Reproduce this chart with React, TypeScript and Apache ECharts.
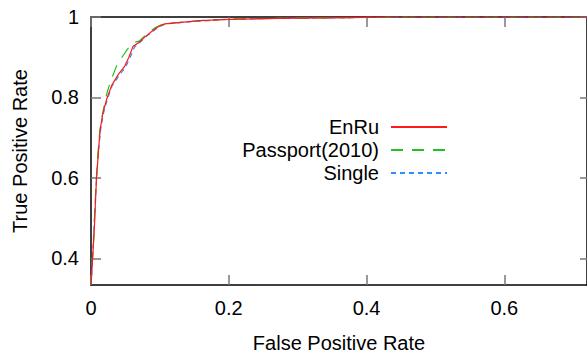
import React, { useEffect, useRef } from "react";
import * as echarts from "echarts";

const xTicks = [0, 0.2, 0.4, 0.6];
const yTicks = [0.4, 0.6, 0.8, 1];
const seriesNames = ["EnRu", "Passport(2010)", "Single"];

const enRu: [number, number][] = [
  [0, 0.335], [0.001, 0.36], [0.003, 0.42], [0.005, 0.48], [0.008, 0.6], [0.011, 0.67],
  [0.013, 0.715], [0.017, 0.76], [0.023, 0.797], [0.03, 0.83], [0.04, 0.858], [0.049, 0.878],
  [0.055, 0.9], [0.061, 0.927], [0.069, 0.936], [0.078, 0.95], [0.088, 0.964], [0.097, 0.975],
  [0.107, 0.983], [0.158, 0.991], [0.2, 0.994], [0.25, 0.996], [0.3, 0.997], [0.35, 0.998],
  [0.4, 0.999], [0.45, 1], [0.72, 1],
];
const passport: [number, number][] = [
  [0, 0.335], [0.001, 0.37], [0.004, 0.45], [0.007, 0.58], [0.01, 0.66], [0.013, 0.72],
  [0.018, 0.77], [0.023, 0.81], [0.028, 0.838], [0.037, 0.878], [0.045, 0.9], [0.053, 0.92],
  [0.061, 0.936], [0.07, 0.94], [0.085, 0.964], [0.095, 0.975], [0.105, 0.983], [0.15, 0.99],
  [0.2, 0.995], [0.3, 0.997], [0.4, 0.999], [0.45, 1], [0.72, 1],
];
const single: [number, number][] = [
  [0, 0.335], [0.001, 0.36], [0.003, 0.43], [0.005, 0.5], [0.008, 0.6], [0.011, 0.67],
  [0.014, 0.72], [0.018, 0.76], [0.024, 0.797], [0.031, 0.83], [0.041, 0.855], [0.05, 0.875],
  [0.057, 0.9], [0.063, 0.925], [0.07, 0.935], [0.079, 0.95], [0.089, 0.963], [0.098, 0.975],
  [0.108, 0.983], [0.16, 0.99], [0.2, 0.994], [0.25, 0.996], [0.3, 0.997], [0.35, 0.998],
  [0.4, 0.999], [0.45, 1], [0.72, 1],
];

const FONT = "Liberation Sans";

export default function App() {
  const ref = useRef<HTMLDivElement>(null);
  useEffect(() => {
    if (!ref.current) return;
    const chart = echarts.init(ref.current, null, { renderer: "svg" });
    const tickStyle = { show: true, inside: true, length: 10, lineStyle: { color: "#777", width: 1.5 } };
    chart.setOption({
      animation: false,
      backgroundColor: "#fff",
      grid: { left: 91, top: 17, right: 0, bottom: 69 },
      legend: {
        data: seriesNames,
        orient: "vertical",
        align: "right",
        right: 139,
        top: 117,
        padding: 0,
        itemWidth: 56,
        itemHeight: 14,
        itemGap: 3,
        itemStyle: { opacity: 0 },
        textStyle: { fontFamily: FONT, fontSize: 20, color: "#000", padding: [0, 7, 0, 0] },
      },
      xAxis: [
        {
          type: "value", min: 0, max: 0.72, position: "bottom",
          axisLine: { show: true, lineStyle: { color: "#000", width: 1.5 } },
          axisTick: { ...tickStyle, customValues: xTicks },
          axisLabel: { customValues: xTicks, fontFamily: FONT, fontSize: 20, color: "#000", margin: 13, formatter: (v: number) => String(v) },
          splitLine: { show: false },
          name: "False Positive Rate", nameLocation: "middle", nameGap: 48,
          nameTextStyle: { fontFamily: FONT, fontSize: 20, color: "#000" },
        },
        {
          type: "value", min: 0, max: 0.72, position: "top",
          axisLine: { show: true, onZero: false, lineStyle: { color: "#000", width: 1.5 } },
          axisTick: { ...tickStyle, customValues: xTicks },
          axisLabel: { show: false },
          splitLine: { show: false },
        },
      ],
      yAxis: [
        {
          type: "value", min: 0.334, max: 1, position: "left",
          axisLine: { show: true, lineStyle: { color: "#000", width: 1.5 } },
          axisTick: { ...tickStyle, customValues: yTicks },
          axisLabel: { customValues: yTicks, fontFamily: FONT, fontSize: 20, color: "#000", margin: 12, formatter: (v: number) => String(v) },
          splitLine: { show: false },
          name: "True Positive Rate", nameLocation: "middle", nameGap: 61,
          nameTextStyle: { fontFamily: FONT, fontSize: 20, color: "#000" },
        },
        {
          type: "value", min: 0.334, max: 1, position: "right",
          axisLine: { show: true, onZero: false, lineStyle: { color: "#000", width: 1.5 } },
          axisTick: { ...tickStyle, length: 7, customValues: yTicks },
          axisLabel: { show: false },
          splitLine: { show: false },
        },
      ],
      series: [
        {
          name: "Single", type: "line", data: single, symbol: "none", showSymbol: false, z: 3,
          lineStyle: { color: "#2f8cff", width: 1.2, type: [5, 4] }, itemStyle: { color: "#2f8cff" },
        },
        {
          name: "Passport(2010)", type: "line", data: passport, symbol: "none", showSymbol: false, z: 4,
          lineStyle: { color: "#22c022", width: 1.2, type: [12, 9] }, itemStyle: { color: "#22c022" },
        },
        {
          name: "EnRu", type: "line", data: enRu, symbol: "none", showSymbol: false, z: 5,
          lineStyle: { color: "#ff1a1a", width: 1.2, type: "solid" }, itemStyle: { color: "#ff1a1a" },
        },
      ],
    });
    return () => chart.dispose();
  }, []);
  return <div ref={ref} style={{ position: "absolute", left: 0, top: 0, width: 587, height: 358 }} />;
}
